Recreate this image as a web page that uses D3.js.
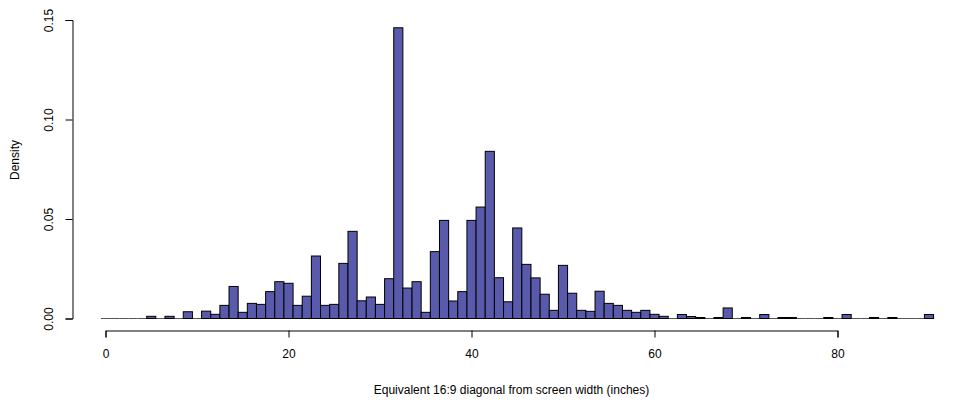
<!DOCTYPE html>
<html><head><meta charset="utf-8">
<script src="https://cdn.jsdelivr.net/npm/d3@7/dist/d3.min.js"></script>
<style>body{margin:0;background:#fff}svg{display:block}text{font-family:"Liberation Sans",Arial,sans-serif;fill:#000}</style>
</head><body><svg id="c" width="961" height="403"></svg>
<script>
// bin centres (width-1 bins, -0.5..90.5)
const binCenters = d3.range(0, 91);
const density = [0,0,0,0,0,0.0011,0,0.0011,0,0.0034,
0,0.0037,0.0021,0.0066,0.0161,0.0031,0.0076,0.0071,0.0135,0.0185,
0.0177,0.0066,0.0112,0.0314,0.0066,0.0071,0.0277,0.0438,0.0089,0.0108,
0.0071,0.0200,0.1461,0.0153,0.0185,0.0031,0.0336,0.0493,0.0088,0.0135,
0.0493,0.0560,0.0840,0.0205,0.0084,0.0455,0.0272,0.0204,0.0122,0.0041,
0.0267,0.0127,0.0041,0.0036,0.0137,0.0076,0.0066,0.0041,0.0031,0.0041,
0.0021,0.0011,0,0.0020,0.0010,0.0005,0,0.0005,0.0053,0,
0.0005,0,0.0020,0,0.0005,0.0005,0,0,0,0.0005,
0,0.0020,0,0,0.0005,0,0.0005,0,0,0,
0.0020];
const xTicks = [0,20,40,60,80];
const yTicks = [0,0.05,0.10,0.15];
const xLabel = "Equivalent 16:9 diagonal from screen width (inches)";
const yLabel = "Density";

const svg = d3.select("#c");
const x = d3.scaleLinear().domain([0,80]).range([105.5,837.5]);
const y = d3.scaleLinear().domain([0,0.15]).range([318.5,20]);

// zero-count bins are drawn as flat lines on the baseline (as R does)
svg.append("g").selectAll("line").data(binCenters.filter((d,i)=>density[i]===0)).join("line")
  .attr("x1", d => x(d-0.5)).attr("x2", d => x(d+0.5))
  .attr("y1", y(0)).attr("y2", y(0))
  .attr("stroke","#555").attr("stroke-width",1);

svg.append("g").selectAll("rect").data(binCenters.filter((d,i)=>density[i]>0)).join("rect")
  .attr("x", d => x(d-0.5))
  .attr("width", d => x(d+0.5)-x(d-0.5))
  .attr("y", d => y(density[d]))
  .attr("height", d => y(0)-y(density[d]))
  .attr("fill","#5a5aad").attr("stroke","#000").attr("stroke-width",1);

// x axis
const xa = svg.append("g").attr("transform","translate(0,330.5)")
  .call(d3.axisBottom(x).tickValues(xTicks).tickSizeOuter(0).tickSize(7).tickPadding(12).tickFormat(d3.format("d")));
xa.select(".domain").attr("stroke","#000");
xa.selectAll("line").attr("stroke","#000");
xa.selectAll("text").attr("font-size",12).attr("font-family","Liberation Sans, Arial, sans-serif");

// y axis
const ya = svg.append("g").attr("transform","translate(72.5,0)")
  .call(d3.axisLeft(y).tickValues(yTicks).tickSizeOuter(0).tickSize(7).tickFormat(d3.format(".2f")));
ya.select(".domain").attr("stroke","#000");
ya.selectAll("line").attr("stroke","#000");
ya.selectAll("text").attr("font-size",12).attr("font-family","Liberation Sans, Arial, sans-serif")
  .attr("x",null).attr("dy",null)
  .attr("transform","translate(-24,0) rotate(-90)")
  .attr("text-anchor","middle").attr("dominant-baseline","central");

svg.append("text").attr("x",(x(0)+x(80))/2+40).attr("y",394)
  .attr("text-anchor","middle").attr("font-size",12).text(xLabel);
svg.append("text").attr("transform","translate(15,160) rotate(-90)")
  .attr("text-anchor","middle").attr("dominant-baseline","central").attr("font-size",12).text(yLabel);
</script></body></html>
